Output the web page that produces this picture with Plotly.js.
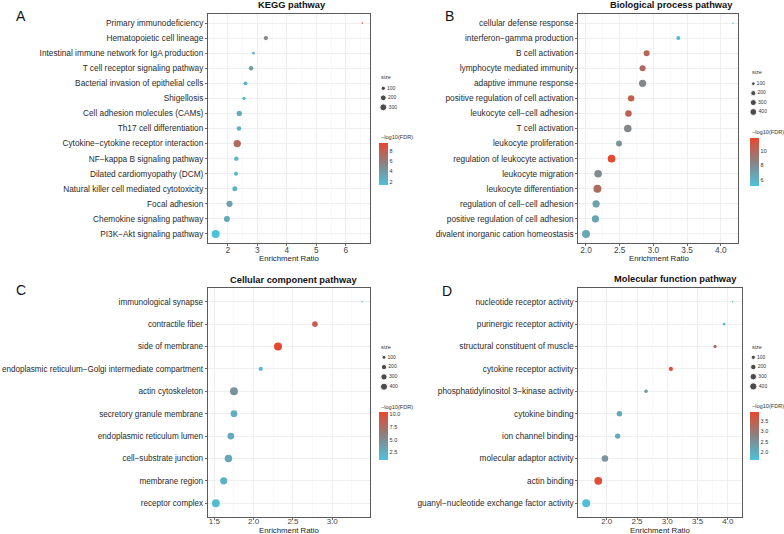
<!DOCTYPE html>
<html><head><meta charset="utf-8">
<script src="https://cdn.plot.ly/plotly-3.0.1.min.js"></script>
<style>html,body{margin:0;padding:0;background:#fff}#chart{width:784px;height:534px}</style>
</head><body><div id="chart"></div>
<script>
// ---------------- data ----------------
const keggTerms = ["Primary immunodeficiency","Hematopoietic cell lineage","Intestinal immune network for IgA production","T cell receptor signaling pathway","Bacterial invasion of epithelial cells","Shigellosis","Cell adhesion molecules (CAMs)","Th17 cell differentiation","Cytokine−cytokine receptor interaction","NF−kappa B signaling pathway","Dilated cardiomyopathy (DCM)","Natural killer cell mediated cytotoxicity","Focal adhesion","Chemokine signaling pathway","PI3K−Akt signaling pathway"];
const keggRatio = [6.56,3.29,2.87,2.79,2.60,2.55,2.39,2.38,2.32,2.29,2.28,2.24,2.06,1.97,1.59];
const keggLogFDR = [9.6,5.3,2.4,3.8,2.3,2.2,3.0,2.6,7.3,2.3,2.1,2.4,3.6,3.1,1.5];
const keggSize = [38,97,48,104,77,65,145,107,294,100,90,131,199,189,354];

const bpTerms = ["cellular defense response","interferon−gamma production","B cell activation","lymphocyte mediated immunity","adaptive immune response","positive regulation of cell activation","leukocyte cell−cell adhesion","T cell activation","leukocyte proliferation","regulation of leukocyte activation","leukocyte migration","leukocyte differentiation","regulation of cell−cell adhesion","positive regulation of cell adhesion","divalent inorganic cation homeostasis"];
const bpRatio = [4.18,3.37,2.90,2.84,2.84,2.67,2.63,2.62,2.49,2.38,2.18,2.17,2.15,2.14,2.00];
const bpLogFDR = [5.2,5.3,10.0,9.8,8.2,10.4,10.3,8.2,7.6,11.6,8.0,9.7,6.8,6.6,6.5];
const bpSize = [55,120,260,270,390,300,310,430,255,440,430,470,385,380,480];

const ccTerms = ["immunological synapse","contractile fiber","side of membrane","endoplasmic reticulum−Golgi intermediate compartment","actin cytoskeleton","secretory granule membrane","endoplasmic reticulum lumen","cell−substrate junction","membrane region","receptor complex"];
const ccRatio = [3.38,2.78,2.31,2.09,1.75,1.75,1.71,1.68,1.62,1.52];
const ccLogFDR = [1.4,8.6,10.4,1.8,4.6,2.6,2.7,3.0,2.2,1.6];
const ccSize = [45,200,440,110,430,300,310,380,350,420];

const mfTerms = ["nucleotide receptor activity","purinergic receptor activity","structural constituent of muscle","cytokine receptor activity","phosphatidylinositol 3−kinase activity","cytokine binding","ion channel binding","molecular adaptor activity","actin binding","guanyl−nucleotide exchange factor activity"];
const mfRatio = [4.08,3.94,3.79,3.06,2.65,2.21,2.18,1.97,1.86,1.66];
const mfLogFDR = [1.75,1.8,3.2,3.9,2.45,2.1,2.05,2.45,3.85,1.7];
const mfSize = [30,40,60,95,70,180,170,270,400,420];

const sizeLegendKegg = [100,200,300];
const sizeLegendBp = [100,200,300,400];
const sizeLegendCc = [100,200,300,400];
const sizeLegendMf = [100,200,300,400];

const panelTitles = ["KEGG pathway","Biological process pathway","Cellular component pathway","Molecular function pathway"];
const panelLetters = ["A","B","C","D"];
const xTitle = "Enrichment Ratio";
const colorTitle = "−log10(FDR)";

// ---------------- layout helpers ----------------
const W = 784, H = 534;
const px = x => x / W;
const py = y => 1 - y / H;
const FONT = "Liberation Sans, Arial, Helvetica, sans-serif";
const colorscale = [[0,'#4EC2DA'],[0.5,'#888384'],[1,'#E8472E']];

function makeSizeFn(vals){
  const mn = Math.min(...vals), mx = Math.max(...vals);
  return v => 1.5 + 6.5 * Math.sqrt(Math.max(0, v - mn) / (mx - mn));
}

const panels = [
  {terms:keggTerms, ratio:keggRatio, fdr:keggLogFDR, size:keggSize, leg:sizeLegendKegg,
   xr:[1.33,6.82], dtick:1, tick0:0, fmt:'', x0:208, x1:370, y0:14, y1:243, yfs:8.3, tls:-3, xfs:8.3,
   tX:291.7, tY:5, lX:20.7, lY:16, axX:289, axY:258.3,
   cmin:1.4, cmax:9.7, cdt:2, cfmt:'', cbX:379.3, cbTop:142.7, cbLen:42, cbTh:9,
   legX:383.3, leg100:88.3, legStep:9.5, legTX:379, legTY:77.3, cbTY:136.7},
  {terms:bpTerms, ratio:bpRatio, fdr:bpLogFDR, size:bpSize, leg:sizeLegendBp,
   xr:[1.886,4.26], dtick:0.5, tick0:0, fmt:'.1f', x0:578.3, x1:738.3, y0:14, y1:243, yfs:8.3, tls:-3, xfs:8.3,
   tX:671.7, tY:5, lX:449.3, lY:16, axX:659.3, axY:258.3,
   cmin:5.1, cmax:11.7, cdt:2, cfmt:'', cbX:750, cbTop:138.3, cbLen:48, cbTh:8.5,
   legX:753.3, leg100:83.7, legStep:9.43, legTX:750, legTY:71.7, cbTY:132.3},
  {terms:ccTerms, ratio:ccRatio, fdr:ccLogFDR, size:ccSize, leg:sizeLegendCc,
   xr:[1.416,3.48], dtick:0.5, tick0:0, fmt:'.1f', x0:207.7, x1:370, y0:288.3, y1:516.7, yfs:8.15, tls:-5, xfs:8,
   tX:293.7, tY:280, lX:20.7, lY:290, axX:289.3, axY:530.6,
   cmin:1.1, cmax:10.45, cdt:2.5, cfmt:'.1f', cbX:379, cbTop:411.7, cbLen:48, cbTh:9,
   legX:384, leg100:357.3, legStep:9.8, legTX:379, legTY:346.7, cbTY:406.7},
  {terms:mfTerms, ratio:mfRatio, fdr:mfLogFDR, size:mfSize, leg:sizeLegendMf,
   xr:[1.53,4.23], dtick:0.5, tick0:0, fmt:'.1f', x0:578.3, x1:741.7, y0:288.3, y1:516.7, yfs:8.3, tls:-5, xfs:8,
   tX:675.7, tY:279.3, lX:447.3, lY:290.7, axX:660, axY:530.6,
   cmin:1.65, cmax:3.94, cdt:0.5, cfmt:'.1f', cbX:750, cbTop:411.7, cbLen:48, cbTh:8.5,
   legX:753.3, leg100:357.3, legStep:9.7, legTX:750, legTY:346.7, cbTY:406}
];

const data = [];
const layout = {
  width: W, height: H,
  margin: {l:0, r:0, t:0, b:0, autoexpand:false},
  paper_bgcolor: '#fff', plot_bgcolor: '#fff',
  showlegend: false,
  font: {family: FONT, color: '#222'},
  annotations: []
};

panels.forEach((p, i) => {
  const k = i + 1, kk = i + 5;
  const sfx = k === 1 ? '' : String(k);
  const sizeFn = makeSizeFn(p.size);
  data.push({
    type: 'scatter', mode: 'markers',
    x: p.ratio, y: p.terms,
    xaxis: 'x' + sfx, yaxis: 'y' + sfx,
    marker: {size: p.size.map(sizeFn), color: p.fdr, coloraxis: 'coloraxis' + sfx, line: {width: 0}, opacity: 1},
    cliponaxis: false,
    hovertemplate: '%{y}<br>ER=%{x}<extra></extra>'
  });
  // size legend
  data.push({
    type: 'scatter', mode: 'markers+text',
    x: p.leg.map(() => 0), y: p.leg,
    text: p.leg.map(String), textposition: 'middle right',
    textfont: {size: 5, color: '#333', family: FONT},
    xaxis: 'x' + kk, yaxis: 'y' + kk,
    marker: {size: p.leg.map(v => sizeFn(v) * 0.85 + 0.6), color: '#000'},
    cliponaxis: false, hoverinfo: 'skip'
  });

  const n = p.terms.length;
  layout['xaxis' + sfx] = {
    domain: [px(p.x0), px(p.x1)], range: p.xr, anchor: 'y' + sfx,
    dtick: p.dtick, tick0: p.tick0, tickformat: p.fmt,
    showline: true, mirror: true, linecolor: '#5a5a5a', linewidth: 1,
    showgrid: true, gridcolor: '#EBEBEB', gridwidth: 0.8,
    minor: {showgrid: true, gridcolor: '#F4F4F4', gridwidth: 0.5, dtick: p.dtick / 2, tick0: p.tick0},
    ticks: 'outside', ticklen: 2, tickwidth: 0.8, tickcolor: '#444',
    ticklabelstandoff: p.tls,
    tickfont: {size: p.xfs, color: '#444', family: FONT},
    zeroline: false, fixedrange: true
  };
  layout['yaxis' + sfx] = {
    domain: [py(p.y1), py(p.y0)], anchor: 'x' + sfx,
    type: 'category', categoryorder: 'array', categoryarray: p.terms,
    range: [n - 0.4, -0.6],
    showline: true, mirror: true, linecolor: '#5a5a5a', linewidth: 1,
    showgrid: true, gridcolor: '#EBEBEB', gridwidth: 0.8,
    ticks: 'outside', ticklen: 2, tickwidth: 0.8, tickcolor: '#444',
    tickfont: {size: p.yfs, color: '#2a2a2a', family: FONT},
    zeroline: false, fixedrange: true
  };
  // legend axes
  layout['xaxis' + kk] = {domain: [px(p.legX - 10), px(p.legX + 10)], range: [-1, 1], anchor: 'y' + kk, visible: false, fixedrange: true};
  layout['yaxis' + kk] = {domain: [py(p.leg100 + 3 * p.legStep), py(p.leg100 - p.legStep)], range: [400, 0], anchor: 'x' + kk, visible: false, fixedrange: true};

  layout['coloraxis' + sfx] = {
    cmin: p.cmin, cmax: p.cmax, colorscale: colorscale, showscale: true,
    colorbar: {
      x: px(p.cbX), xanchor: 'left', xref: 'paper',
      y: py(p.cbTop), yanchor: 'top', yref: 'paper',
      len: p.cbLen, lenmode: 'pixels', thickness: p.cbTh, thicknessmode: 'pixels',
      outlinewidth: 0, xpad: 0, ypad: 0, ticks: '', dtick: p.cdt, tick0: 0,
      tickformat: p.cfmt, tickfont: {size: 5.5, color: '#333', family: FONT}
    }
  };

  const A = layout.annotations;
  A.push({text: panelTitles[i], x: px(p.tX), y: py(p.tY), xref: 'paper', yref: 'paper', xanchor: 'center', yanchor: 'middle', showarrow: false, font: {size: 9.3, weight: 'bold', color: '#111', family: FONT}});
  A.push({text: panelLetters[i], x: px(p.lX), y: py(p.lY), xref: 'paper', yref: 'paper', xanchor: 'center', yanchor: 'middle', showarrow: false, font: {size: 14, color: '#111', family: FONT}});
  A.push({text: xTitle, x: px(p.axX), y: py(p.axY), xref: 'paper', yref: 'paper', xanchor: 'center', yanchor: 'middle', showarrow: false, font: {size: 7.8, color: '#222', family: FONT}});
  A.push({text: 'size', x: px(p.legTX), y: py(p.legTY), xref: 'paper', yref: 'paper', xanchor: 'left', yanchor: 'middle', showarrow: false, font: {size: 5.5, color: '#333', family: FONT}});
  A.push({text: colorTitle, x: px(p.legTX), y: py(p.cbTY), xref: 'paper', yref: 'paper', xanchor: 'left', yanchor: 'middle', showarrow: false, font: {size: 5.6, color: '#333', family: FONT}});
});

Plotly.newPlot('chart', data, layout, {displayModeBar: false, staticPlot: true});
</script>
</body></html>
